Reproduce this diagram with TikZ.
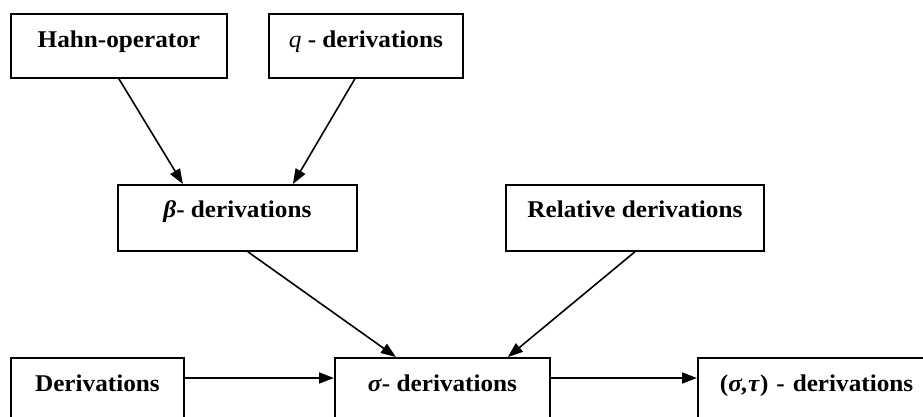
\documentclass[tikz,border=0pt]{standalone}
\usepackage{fontspec}
\setmainfont{Liberation Serif}[FakeStretch=1.05]
\usetikzlibrary{arrows.meta,calc}
\begin{document}
\begin{tikzpicture}[x=1pt,y=-1pt,
  box/.style={draw, line width=1.8pt, inner sep=0pt, anchor=north west,
    font=\fontsize{24}{28}\selectfont\bfseries},
  top/.style={text height=34pt, text depth=30pt},
  mid/.style={text height=33pt, text depth=33pt},
  bot/.style={text height=34pt, text depth=70pt},
  arr/.style={line width=1.6pt, -{Triangle[length=15pt,width=11pt]}}]
\useasboundingbox (0,0) rectangle (923,416);
\clip (0,0) rectangle (923,416);
\node[box, top, minimum width=216pt] (hahn) at (10,13) {Hahn-operator};
\node[box, top, minimum width=194pt] (q) at (268,13) {{\mdseries\itshape q} - derivations};
\node[box, mid, minimum width=239pt] (beta) at (117,184) {\textit{β}- derivations};
\node[box, mid, minimum width=258pt] (rel) at (505,184) {Relative derivations};
\node[box, bot, minimum width=173pt] (deriv) at (10,357) {Derivations};
\node[box, bot, minimum width=215pt] (sigma) at (334,357) {\textit{σ}- derivations};
\node[box, bot, text width=290pt, align=left, inner xsep=22pt] (st) at (697,357) {(\textit{σ,τ}) - derivations};
\draw[arr] (hahn.south) -- ($(beta.north)+(-54.5,0)$);
\draw[arr] ($(q.south)+(-11,0)$) -- ($(beta.north)+(55.5,0)$);
\draw[arr] ($(beta.south)+(10.5,0)$) -- ($(sigma.north)+(-46.5,0)$);
\draw[arr] (rel.south) -- ($(sigma.north)+(65.5,0)$);
\draw[arr] ($(deriv.north east)+(0,21)$) -- ($(sigma.north west)+(0,21)$);
\draw[arr] ($(sigma.north east)+(0,21)$) -- ($(st.north west)+(0,21)$);
\end{tikzpicture}
\end{document}
